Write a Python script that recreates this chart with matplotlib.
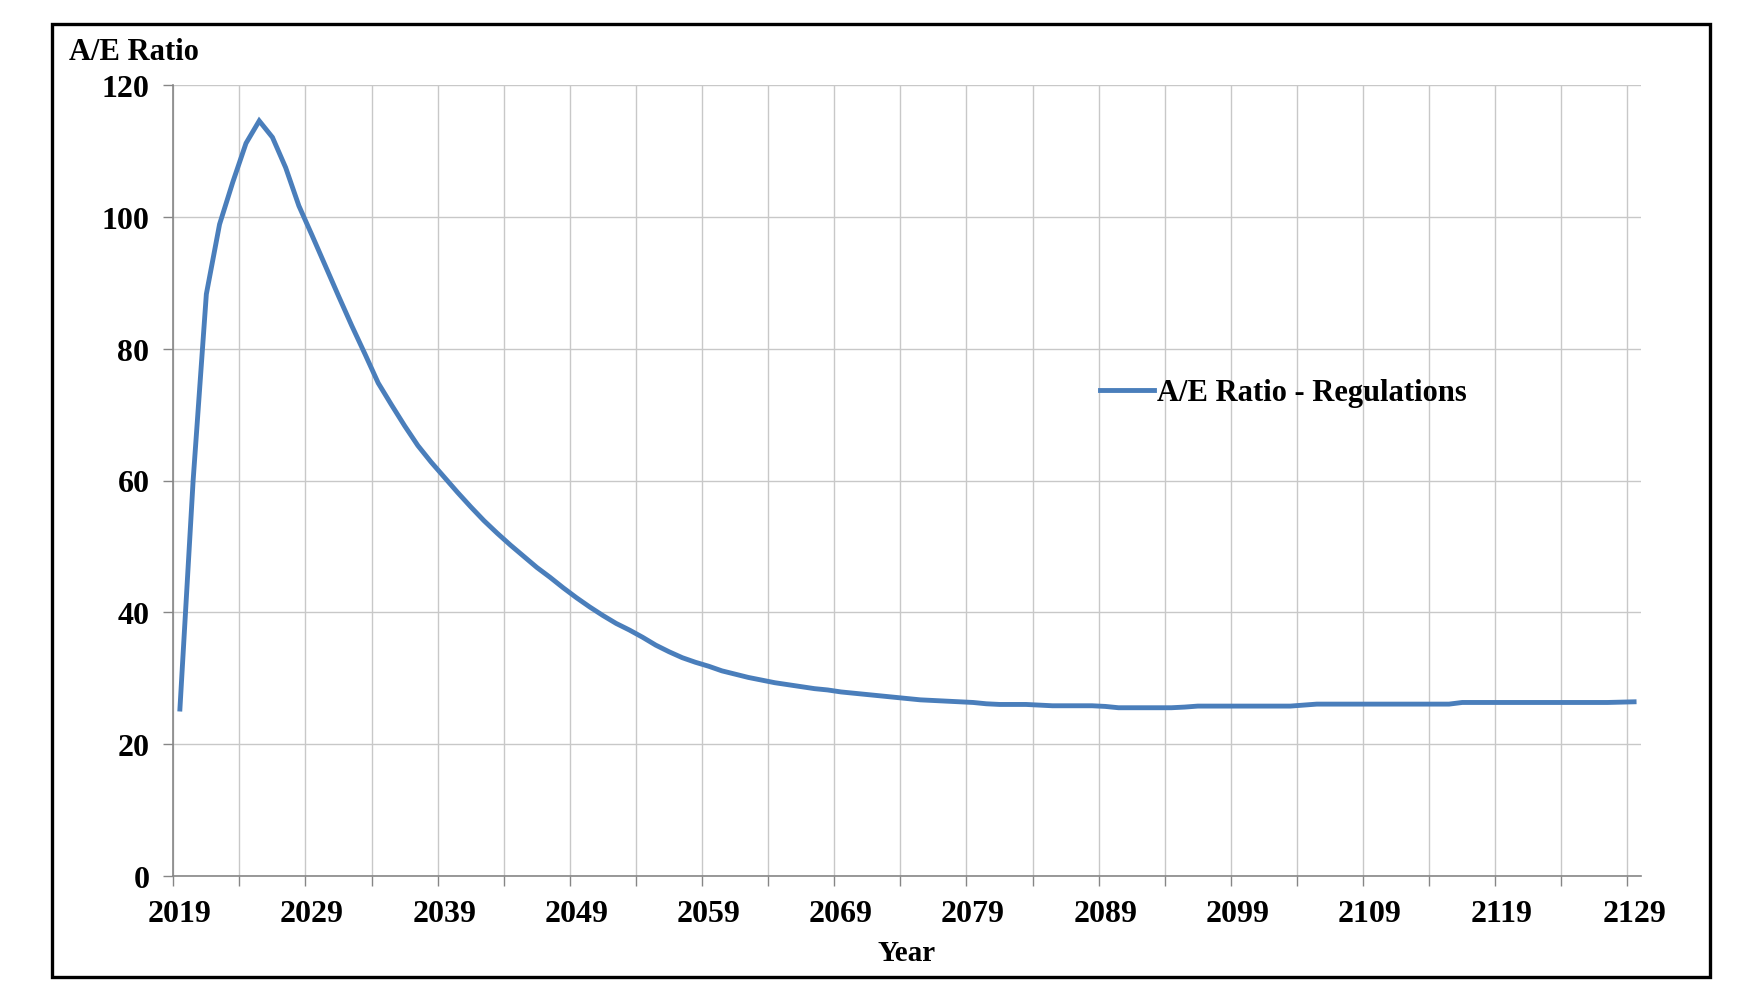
import numpy as np
import matplotlib.pyplot as plt
from matplotlib.patches import Rectangle
from matplotlib.ticker import FixedLocator

# data (one value per year, 2019-2129)
years = np.arange(2019, 2130)
ae_ratio = [
    25.3, 60.0, 88.3, 98.9, 105.3, 111.2, 114.6, 112.1, 107.5, 101.7,   # 2019-2028
    97.2, 92.6, 88.0, 83.5, 79.2, 74.8, 71.5, 68.3, 65.3, 62.8,         # 2029-2038
    60.5, 58.2, 56.0, 53.9, 52.0, 50.2, 48.5, 46.8, 45.3, 43.7,         # 2039-2048
    42.2, 40.8, 39.5, 38.3, 37.3, 36.2, 35.0, 34.0, 33.1, 32.4,         # 2049-2058
    31.8, 31.1, 30.6, 30.1, 29.7, 29.3, 29.0, 28.7, 28.4, 28.2,         # 2059-2068
    27.9, 27.7, 27.5, 27.3, 27.1, 26.9, 26.7, 26.6, 26.5, 26.4,         # 2069-2078
    26.3, 26.1, 26.0, 26.0, 26.0, 25.9, 25.8, 25.8, 25.8, 25.8,         # 2079-2088
    25.7, 25.5, 25.5, 25.5, 25.5, 25.5, 25.6, 25.75, 25.75, 25.75,      # 2089-2098
    25.75, 25.75, 25.75, 25.75, 25.75, 25.9, 26.05, 26.05, 26.05, 26.05,  # 2099-2108
    26.05, 26.05, 26.05, 26.05, 26.05, 26.05, 26.05, 26.3, 26.3, 26.3,  # 2109-2118
    26.3, 26.3, 26.3, 26.3, 26.3, 26.3, 26.3, 26.3, 26.3, 26.35,        # 2119-2128
    26.4,                                                               # 2129
]
label_years = [2019, 2029, 2039, 2049, 2059, 2069, 2079, 2089, 2099, 2109, 2119, 2129]
y_ticks = [0, 20, 40, 60, 80, 100, 120]

font = 'Liberation Serif'
line_color = '#4a7ebb'
grid_color = '#c8c8c8'
axis_color = '#868686'

W, H = 1764, 1004
fig = plt.figure(figsize=(W / 100, H / 100), dpi=100)
ax = fig.add_axes([173.3 / W, 1 - 876.7 / H, (1640.7 - 173.3) / W, (876.7 - 86.3) / H])

ax.plot(years, ae_ratio, color=line_color, lw=3.5, solid_joinstyle='miter',
        label='A/E Ratio - Regulations')

ax.set_xlim(2018.5, 2129.5)
ax.set_ylim(0, 120)

# category-style x axis: labels on the year, tick marks between groups of 5
ax.xaxis.set_major_locator(FixedLocator(label_years))
ax.xaxis.set_minor_locator(FixedLocator(np.arange(2018.5, 2129, 5)))
ax.tick_params(axis='x', which='major', length=0, pad=17)
ax.tick_params(axis='x', which='minor', length=7.2, width=1, color=axis_color, direction='out')
ax.set_yticks(y_ticks)
ax.tick_params(axis='y', length=7.2, width=1, color=axis_color, direction='out', pad=10)

ax.grid(True, axis='x', which='minor', color=grid_color, lw=1)
ax.grid(True, axis='y', which='major', color=grid_color, lw=1)
ax.set_axisbelow(True)

for side in ['top', 'right']:
    ax.spines[side].set_visible(False)
for side in ['left', 'bottom']:
    ax.spines[side].set_color(axis_color)
    ax.spines[side].set_linewidth(1.2)

for lab in ax.get_xticklabels() + ax.get_yticklabels():
    lab.set_fontfamily(font)
    lab.set_fontweight('bold')
    lab.set_fontsize(23)

ax.set_xlabel('Year', fontfamily=font, fontweight='bold', fontsize=21, labelpad=8)
fig.text(69 / W, 1 - 60 / H, 'A/E Ratio', fontfamily=font, fontweight='bold',
         fontsize=22, va='baseline', ha='left')

leg = ax.legend(loc='center left', bbox_to_anchor=((1088 - 173.3) / (1640.7 - 173.3), (876.7 - 394) / (876.7 - 86.3)),
                frameon=False, handlelength=1.75, handletextpad=0.1, borderaxespad=0,
                prop={'family': font, 'weight': 'bold', 'size': 22})

# outer frame around the whole chart
fig.patches.append(Rectangle((52 / W, 1 - 978 / H), (1710 - 52) / W, (978 - 25) / H,
                             transform=fig.transFigure, fill=False, ec='black', lw=2.4))

plt.savefig('out.png', dpi=100)
